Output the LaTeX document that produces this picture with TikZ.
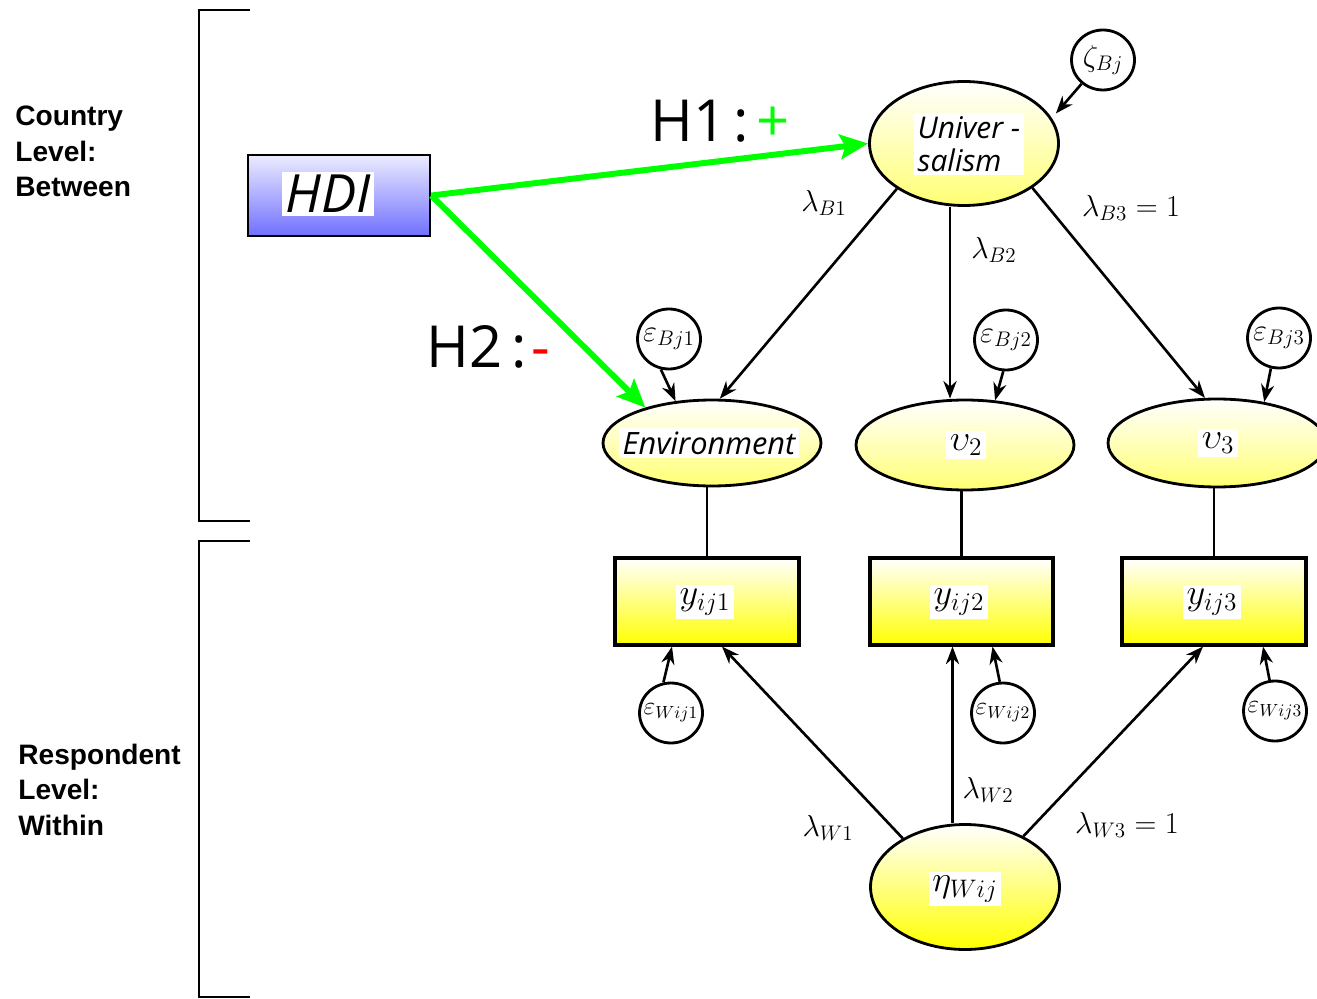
\documentclass[tikz,border=0pt]{standalone}
\usepackage{fontspec}
\setmainfont{Liberation Serif}
\newfontfamily\osans{Open Sans}
\newfontfamily\lsans{Liberation Sans}
\usetikzlibrary{shapes.geometric,arrows.meta,calc}
\definecolor{hgreen}{RGB}{0,255,0}
\definecolor{hred}{RGB}{255,0,0}
\definecolor{hblueT}{RGB}{236,236,255}
\definecolor{hblueB}{RGB}{112,112,255}
\tikzset{
  lat/.style={ellipse, draw, line width=1.6pt, top color=white, bottom color=yellow!55, inner sep=0pt},
  obs/.style={rectangle, draw, line width=1.8pt, top color=white, bottom color=yellow, inner sep=0pt},
  err/.style={ellipse, draw, line width=1.6pt, fill=white, inner sep=0pt, minimum width=1.26cm, minimum height=1.2cm},
  errt/.style={inner sep=0pt, font=\fontsize{18}{18}\selectfont},
  errw/.style={inner sep=0pt, font=\fontsize{14.5}{14.5}\selectfont},
  lab/.style={fill=white, inner sep=2pt},
  mth/.style={fill=white, inner sep=2pt, font=\fontsize{21}{21}\selectfont},
  coef/.style={inner sep=0pt, font=\fontsize{17.5}{17.5}\selectfont},
  arr/.style={-{Stealth[length=10pt,width=7.5pt]}, line width=1.5pt},
  garr/.style={-{Stealth[length=16pt,width=14pt,inset=3pt]}, line width=3.4pt, draw=hgreen},
  bracket/.style={line width=1.6pt},
  side/.style={anchor=north west, align=left, inner sep=0pt, font=\lsans\bfseries\fontsize{16}{20}\selectfont},
  hyp/.style={anchor=base west, inner sep=0pt, font=\osans\fontsize{33}{33}\selectfont}
}
\begin{document}
\begin{tikzpicture}[x=0.02cm, y=-0.02cm]
\useasboundingbox (0,0) rectangle (1317,999);

% brackets
\draw[bracket] (250,10) -- (199,10) -- (199,521) -- (250,521);
\draw[bracket] (250,541) -- (199,541) -- (199,997) -- (250,997);

% side labels
\node[side] (ctry) at (15,106) {Country\\Level:\\Between};
\node[side] (resp) at (18,744) {Respondent\\Level:\\Within};

% HDI
\node[rectangle, draw, line width=1.6pt, top color=hblueT, bottom color=hblueB, minimum width=3.64cm, minimum height=1.62cm] (hdi) at (339,195.5) {};
\node[lab, font=\osans\itshape\fontsize{30}{30}\selectfont] (hdit) at (328,194) {HDI};

% latent between
\node[lat, minimum width=3.78cm, minimum height=2.48cm] (univ) at (964,143.5) {};
\node[lab, align=left, font=\osans\itshape\fontsize{17}{19}\selectfont] (univt) at (969,144) {Univer -\\salism};
\node[err] (zeta) at (1103,60) {};
\node[errt] (zetat) at (1103,60) {$\zeta_{Bj}$};

\node[lat, minimum width=4.36cm, minimum height=1.72cm] (env) at (712,443) {};
\node[lab, font=\osans\itshape\fontsize{17.5}{17.5}\selectfont] (envt) at (709,443) {Environment};
\node[lat, minimum width=4.36cm, minimum height=1.8cm] (v2) at (965,445) {};
\node[mth] (v2t) at (966,445) {$\upsilon_2$};
\node[lat, minimum width=4.36cm, minimum height=1.76cm] (v3) at (1217,443) {};
\node[mth] (v3t) at (1218,443) {$\upsilon_3$};

\node[err] (eb1) at (669,339) {};
\node[errt] (eb1t) at (669,339) {$\varepsilon_{Bj1}$};
\node[err] (eb2) at (1006,340) {};
\node[errt] (eb2t) at (1006,340) {$\varepsilon_{Bj2}$};
\node[err] (eb3) at (1279,338) {};
\node[errt] (eb3t) at (1279,338) {$\varepsilon_{Bj3}$};

% observed
\node[obs, minimum width=3.68cm, minimum height=1.74cm] (y1) at (707,601.5) {};
\node[mth] (y1t) at (705,602) {$y_{ij1}$};
\node[obs, minimum width=3.66cm, minimum height=1.74cm] (y2) at (961.5,601.5) {};
\node[mth] (y2t) at (959,602) {$y_{ij2}$};
\node[obs, minimum width=3.68cm, minimum height=1.74cm] (y3) at (1214,601.5) {};
\node[mth] (y3t) at (1212,602) {$y_{ij3}$};

\node[err] (ew1) at (671,713) {};
\node[errw] (ew1t) at (671,713) {$\varepsilon_{Wij1}$};
\node[err] (ew2) at (1003,713) {};
\node[errw] (ew2t) at (1003,713) {$\varepsilon_{Wij2}$};
\node[err] (ew3) at (1275,711) {};
\node[errw] (ew3t) at (1275,711) {$\varepsilon_{Wij3}$};

% latent within
\node[lat, bottom color=yellow, minimum width=3.78cm, minimum height=2.5cm] (eta) at (965,887) {};
\node[mth] (etat) at (965,889) {$\eta_{Wij}$};

% hypotheses
\node[hyp] (h1) at (650,142) {H1\hspace{4pt}:\hspace{4.5pt}\textcolor{hgreen}{+}};
\node[hyp] (h2) at (426,368) {H2\hspace{5pt}:\hspace{3pt}\textcolor{hred}{-}};

% green arrows
\draw[garr] (hdi.east) -- (univ.west);
\draw[garr] (hdi.east) -- (env.152);

% between loadings
\coordinate (b2) at ($(v2.north)+(-15,0)$);
\draw[arr] (univ.214) -- (env.80);
\draw[arr] (b2 |- univ.south) -- (b2);
\draw[arr] (univ.327) -- (v3.105);
\draw[arr] (zeta.228) -- ($(univ.east)+(-4,-30)$);
\draw[arr] (eb1.255) -- (env.131);
\draw[arr] (eb2.265) -- (v2.56);
\draw[arr] (eb3.255) -- (v3.41);

% connections latent-observed
\draw[line width=1.6pt] (y1.north) -- (y1.north |- env.south);
\draw[line width=1.6pt] (y2.north) -- (y2.north |- v2.south);
\draw[line width=1.6pt] (y3.north) -- (y3.north |- v3.south);

% within
\draw[arr] (ew1.104) -- ($(y1.south)+(-35,0)$);
\draw[arr] (ew2.96) -- ($(y2.south)+(31,0)$);
\draw[arr] (ew3.100) -- ($(y3.south)+(49,0)$);
\coordinate (w2) at ($(y2.south)+(-9,0)$);
\draw[arr] (eta.142) -- ($(y1.south)+(15,0)$);
\draw[arr] (w2 |- eta.north) -- (w2);
\draw[arr] (eta.41) -- ($(y3.south)+(-11,0)$);

% coefficients
\node[coef] (lb1) at (824,203) {$\lambda_{B1}$};
\node[coef] (lb2) at (994,250) {$\lambda_{B2}$};
\node[coef] (lb3) at (1131,208) {$\lambda_{B3}=1$};
\node[coef] (lw1) at (828,828) {$\lambda_{W1}$};
\node[coef] (lw2) at (988,790) {$\lambda_{W2}$};
\node[coef] (lw3) at (1127,825) {$\lambda_{W3}=1$};
\end{tikzpicture}
\end{document}
